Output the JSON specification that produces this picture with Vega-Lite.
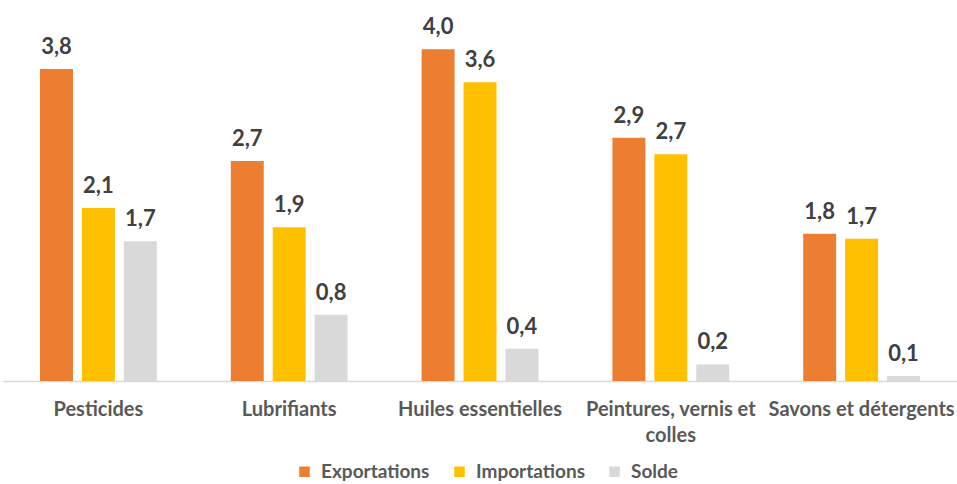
{
  "$schema": "https://vega.github.io/schema/vega-lite/v6.json",
  "width": 954,
  "height": 364,
  "autosize": {"type": "none"},
  "padding": {"left": 3, "top": 17, "right": 0, "bottom": 103},
  "background": "white",
  "config": {
    "view": {"stroke": null},
    "locale": {"number": {"decimal": ",", "thousands": " ", "grouping": [3], "currency": ["", " €"]}},
    "font": "Lato"
  },
  "data": {
    "values": [
      {"categorie": "Pesticides", "serie": "Exportations", "valeur": 3.77},
      {"categorie": "Pesticides", "serie": "Importations", "valeur": 2.09},
      {"categorie": "Pesticides", "serie": "Solde", "valeur": 1.69},
      {"categorie": "Lubrifiants", "serie": "Exportations", "valeur": 2.66},
      {"categorie": "Lubrifiants", "serie": "Importations", "valeur": 1.86},
      {"categorie": "Lubrifiants", "serie": "Solde", "valeur": 0.8},
      {"categorie": "Huiles essentielles", "serie": "Exportations", "valeur": 4.01},
      {"categorie": "Huiles essentielles", "serie": "Importations", "valeur": 3.61},
      {"categorie": "Huiles essentielles", "serie": "Solde", "valeur": 0.39},
      {"categorie": "Peintures, vernis et colles", "serie": "Exportations", "valeur": 2.94},
      {"categorie": "Peintures, vernis et colles", "serie": "Importations", "valeur": 2.74},
      {"categorie": "Peintures, vernis et colles", "serie": "Solde", "valeur": 0.2},
      {"categorie": "Savons et détergents", "serie": "Exportations", "valeur": 1.78},
      {"categorie": "Savons et détergents", "serie": "Importations", "valeur": 1.72},
      {"categorie": "Savons et détergents", "serie": "Solde", "valeur": 0.06}
    ]
  },
  "encoding": {
    "x": {
      "field": "categorie",
      "type": "nominal",
      "sort": null,
      "scale": {"paddingInner": 0.341, "paddingOuter": 0.1705},
      "axis": {
        "title": null,
        "labelAngle": 0,
        "ticks": false,
        "domainColor": "#D9D9D9",
        "domainWidth": 1.5,
        "labelFont": "Lato",
        "labelFontSize": 20,
        "labelFontWeight": "bold",
        "labelColor": "#595959",
        "labelPadding": 28,
        "labelLineHeight": 26,
        "labelLimit": 300,
        "labelBaseline": "middle",
        "labelExpr": "datum.value == 'Peintures, vernis et colles' ? ['Peintures, vernis et', 'colles'] : datum.label"
      }
    },
    "xOffset": {
      "field": "serie",
      "type": "nominal",
      "sort": ["Exportations", "Importations", "Solde"],
      "scale": {"paddingInner": 0.214, "paddingOuter": 0.107}
    },
    "y": {
      "field": "valeur",
      "type": "quantitative",
      "scale": {"domain": [0, 4.4], "nice": false, "zero": true},
      "axis": null
    }
  },
  "layer": [
    {
      "mark": {"type": "bar"},
      "encoding": {
        "color": {
          "field": "serie",
          "type": "nominal",
          "sort": ["Exportations", "Importations", "Solde"],
          "scale": {"domain": ["Exportations", "Importations", "Solde"], "range": ["#ED7D31", "#FFC000", "#D9D9D9"]},
          "legend": {
            "title": null,
            "orient": "none",
            "legendX": 292,
            "legendY": 445,
            "direction": "horizontal",
            "symbolType": "square",
            "symbolSize": 110,
            "symbolStrokeWidth": 0,
            "labelFont": "Lato",
            "labelFontSize": 19,
            "labelFontWeight": "bold",
            "labelColor": "#595959",
            "labelOffset": 7,
            "columnPadding": 20
          }
        }
      }
    },
    {
      "mark": {"type": "text", "font": "Lato", "fontSize": 22, "fontWeight": "bold", "color": "#404040", "baseline": "alphabetic", "dy": -15},
      "encoding": {
        "text": {"field": "valeur", "type": "quantitative", "format": ".1f"}
      }
    }
  ]
}
